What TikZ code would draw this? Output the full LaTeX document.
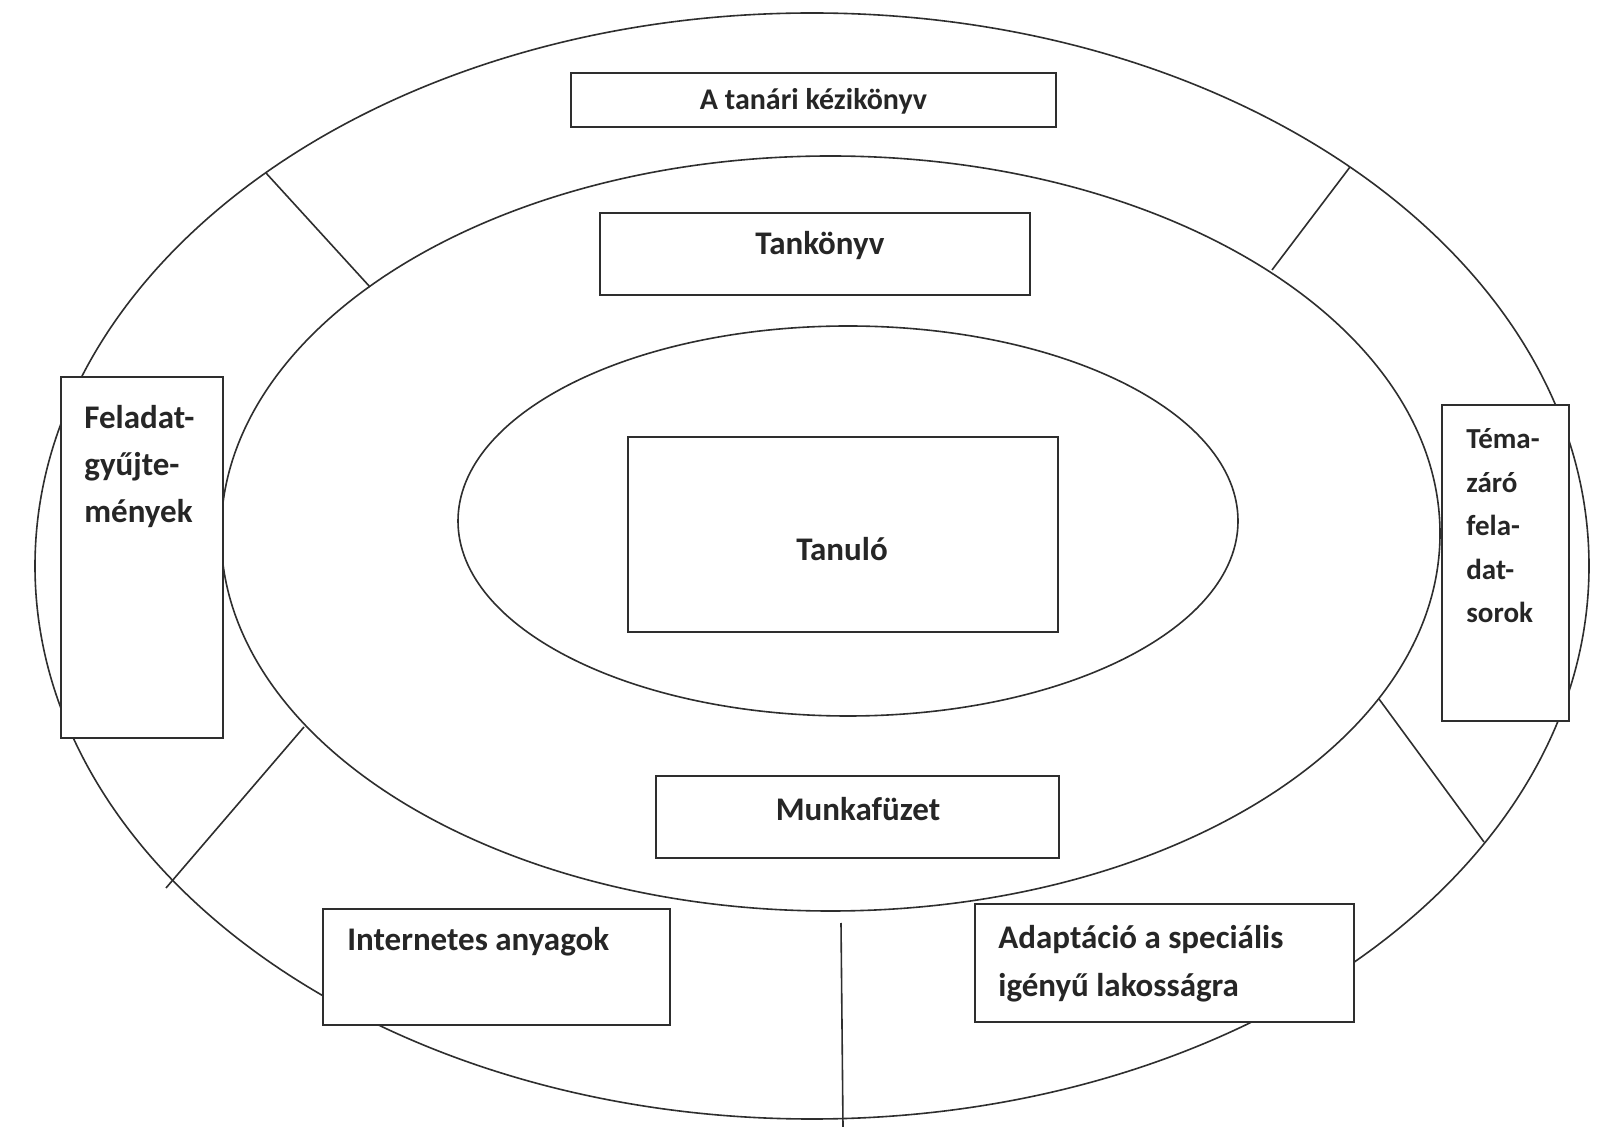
\documentclass[tikz,border=0pt]{standalone}
\usepackage{fontspec}
\setmainfont{Carlito}
\definecolor{ink}{HTML}{2E2E2E}
\definecolor{txt}{HTML}{262626}
\begin{document}
\begin{tikzpicture}[x=0.5pt,y=-0.5pt,
  ring/.style={draw=ink, line width=0.8pt},
  box/.style={draw=ink, line width=0.8pt, fill=white, inner sep=0pt, outer sep=0pt},
  lbl/.style={font=\fontsize{16.5}{20}\selectfont\bfseries, text=txt, inner sep=0pt},
  divider/.style={draw=ink, line width=0.8pt}]
\useasboundingbox (0,0) rectangle (1601,1127);
\fill[white] (0,0) rectangle (1601,1127);
% rings
\draw[ring] (812,566) ellipse [x radius=388.5pt, y radius=276.5pt];
\draw[ring] (830.5,533.5) ellipse [x radius=304.75pt, y radius=188.75pt];
\draw[ring] (848,521) ellipse [x radius=195pt, y radius=97.5pt];
% divider ends
\coordinate (d1a) at (266,173);
\coordinate (d1b) at (370,287);
\coordinate (d2a) at (1350,167);
\coordinate (d2b) at (1272,270);
\coordinate (d3a) at (304,727);
\coordinate (d3b) at (166,888);
\coordinate (d4a) at (1379,699);
\coordinate (d4b) at (1484,842);
\coordinate (d5a) at (841,923);
\coordinate (d5b) at (843,1127);
\draw[divider] (d1a) -- (d1b);
\draw[divider] (d2a) -- (d2b);
\draw[divider] (d3a) -- (d3b);
\draw[divider] (d4a) -- (d4b);
\draw[divider] (d5a) -- (d5b);
% boxes
\node[box, minimum width=242.5pt, minimum height=27pt] (tanari) at (813.5,100) {};
\node[box, minimum width=215pt, minimum height=41pt] (tankonyv) at (815,254) {};
\node[box, minimum width=215pt, minimum height=97.5pt] (tanulo) at (843,534.5) {};
\node[box, minimum width=201.5pt, minimum height=41pt] (munka) at (857.5,817) {};
\node[box, minimum width=173.5pt, minimum height=58pt] (internet) at (496.5,967) {};
\node[box, minimum width=189.5pt, minimum height=59pt] (adapt) at (1164.5,963) {};
\node[box, minimum width=81pt, minimum height=180.5pt] (feladat) at (142,557.5) {};
\node[box, minimum width=63.5pt, minimum height=158pt] (tema) at (1505.5,563) {};
% labels
\node[lbl, font=\fontsize{15}{18}\selectfont\bfseries] (tTanari) at (813.5,101) {A tanári kézikönyv};
\node[lbl] (tTankonyv) at (820,246) {Tankönyv};
\node[lbl] (tTanulo) at (842,549) {Tanuló};
\node[lbl] (tMunka) at (858,809) {Munkafüzet};
\node[lbl, anchor=west] (tInternet) at (347,942) {Internetes anyagok};
\node[lbl, anchor=north west, align=left, font=\fontsize{16.5}{24}\selectfont\bfseries] (tAdapt) at (998,925) {Adaptáció a speciális\\igényű lakosságra};
\node[lbl, anchor=north west, align=left, font=\fontsize{16.5}{23.5}\selectfont\bfseries] (tFeladat) at (84,405) {Feladat-\\gyűjte-\\mények};
\node[lbl, anchor=north west, align=left, font=\fontsize{14.5}{21.8}\selectfont\bfseries] (tTema) at (1466,428) {Téma-\\záró\\fela-\\dat-\\sorok};
\end{tikzpicture}
\end{document}
